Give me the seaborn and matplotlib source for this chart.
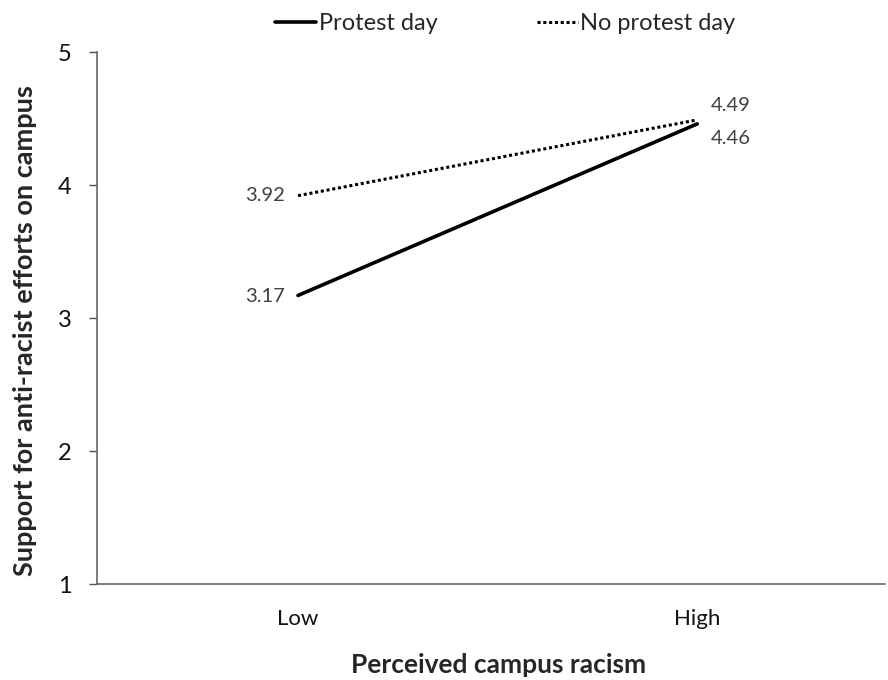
import matplotlib
matplotlib.use("Agg")
import matplotlib.pyplot as plt
import seaborn as sns
import pandas as pd
from matplotlib.lines import Line2D

categories = ["Low", "High"]
protest = [3.17, 4.46]
no_protest = [3.92, 4.49]
series_names = ["Protest day", "No protest day"]
yticks = [1, 2, 3, 4, 5]

sns.set_theme(style="white")
plt.rcParams['font.family'] = ['Lato', 'DejaVu Sans']

df = pd.DataFrame({
    "x": categories * 2,
    "y": protest + no_protest,
    "cond": [series_names[0]] * 2 + [series_names[1]] * 2,
})

fig = plt.figure(figsize=(8.88, 6.8), dpi=100)
ax = fig.add_axes([0.109, 0.141, 0.888, 0.7825])

pos = {c: i for i, c in enumerate(categories)}
df["xi"] = df["x"].map(pos)
sns.lineplot(data=df, x="xi", y="y", style="cond",
             dashes={series_names[0]: "", series_names[1]: (1, 0.9)},
             size="cond", sizes={series_names[0]: 2.6, series_names[1]: 2.2},
             color="black", legend=False, ax=ax)

ax.set_xlim(-0.504, 1.471)
ax.set_ylim(1, 5)
ax.set_yticks(yticks)
ax.set_yticklabels([str(t) for t in yticks], fontsize=17, color="#111111")
ax.set_xticks(range(len(categories)))
ax.set_xticklabels(categories, fontsize=16, color="#111111")
ax.tick_params(axis="y", length=6, width=1, color="#555555", pad=12, left=True)
ax.tick_params(axis="x", length=0, pad=18)
for s in ["top", "right"]:
    ax.spines[s].set_visible(False)
for s in ["left", "bottom"]:
    ax.spines[s].set_color("#666666")
    ax.spines[s].set_linewidth(1.2)

ax.set_xlabel("Perceived campus racism", fontsize=19, fontweight="bold")
ax.set_ylabel("Support for anti-racist efforts on campus", fontsize=19.5,
              fontweight="bold")
ax.xaxis.set_label_coords(0.510, -0.129)
ax.yaxis.set_label_coords(-0.076, 0.4756)

# value labels
lbl = dict(fontsize=14.5, color="#404040")
ax.text(0 - 0.033, protest[0] - 0.01, f"{protest[0]:.2f}", ha="right", va="center", **lbl)
ax.text(0 - 0.033, no_protest[0], f"{no_protest[0]:.2f}", ha="right", va="center", **lbl)
ax.text(1 + 0.035, no_protest[1] + 0.11, f"{no_protest[1]:.2f}", ha="left", va="center", **lbl)
ax.text(1 + 0.035, protest[1] - 0.11, f"{protest[1]:.2f}", ha="left", va="center", **lbl)

handles = [Line2D([0], [0], color="black", lw=2.6, linestyle="-"),
           Line2D([0], [0], color="black", lw=2.2, linestyle=(0, (1, 0.9)))]
fig.legend(handles, series_names, loc="upper center", bbox_to_anchor=(0.569, 1.012),
           ncol=2, frameon=False, fontsize=17, handlelength=1.75,
           handletextpad=0.1, columnspacing=4.2)

fig.savefig("out.png", dpi=100)
